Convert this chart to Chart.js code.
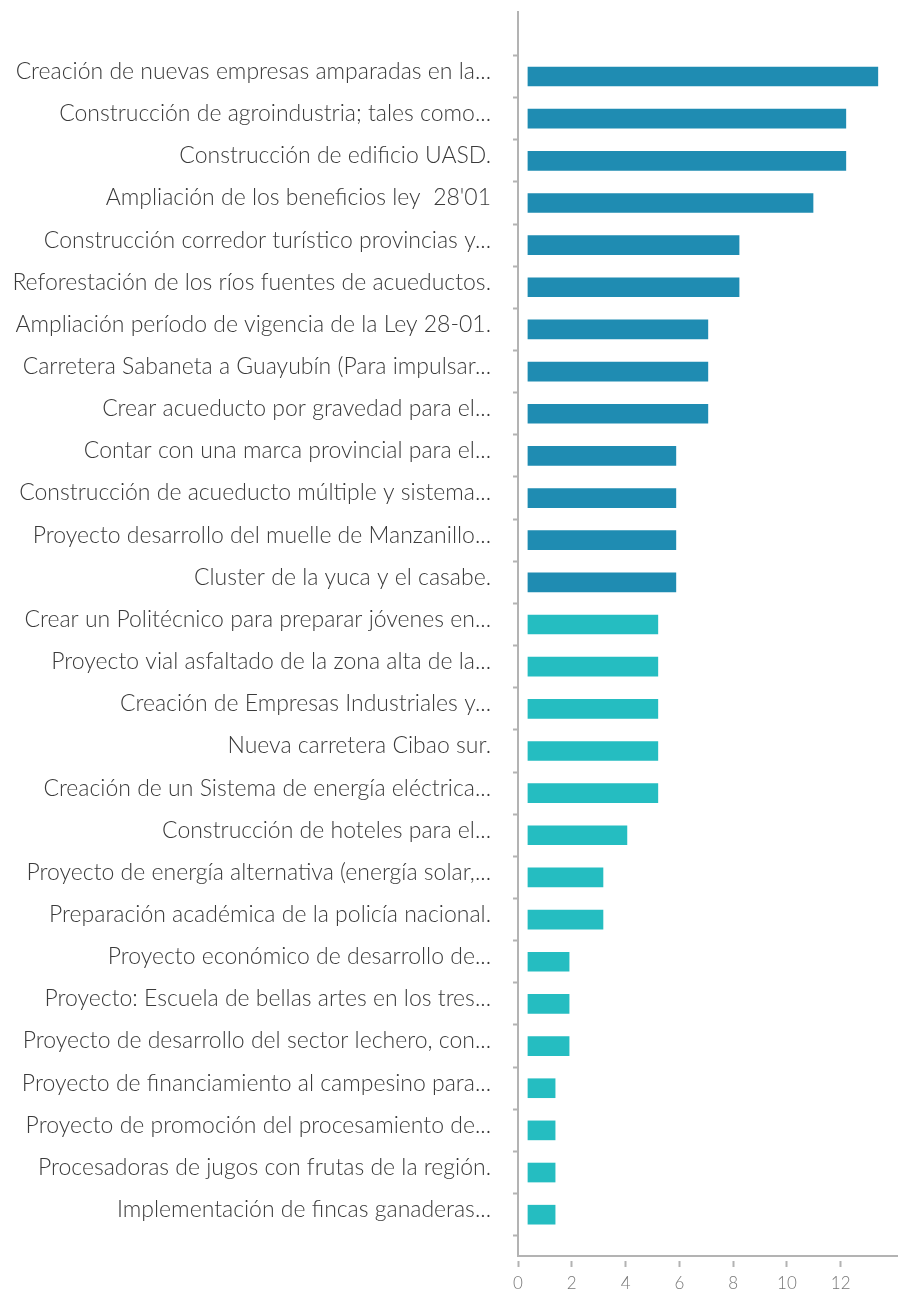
<!DOCTYPE html>
<html>
<head>
<meta charset="utf-8">
<script src="https://cdn.jsdelivr.net/npm/chart.js@4/dist/chart.umd.min.js"></script>
<style>
  html, body { margin: 0; padding: 0; background: #ffffff; }
  #wrap { width: 898px; height: 1292px; position: relative; }
</style>
</head>
<body>
<div id="wrap"><canvas id="c"></canvas></div>
<script>
const categories = [
  "Creación de nuevas empresas amparadas en la...",
  "Construcción de agroindustria; tales como...",
  "Construcción de edificio UASD.",
  "Ampliación de los beneficios ley  28'01",
  "Construcción corredor turístico provincias y...",
  "Reforestación de los ríos fuentes de acueductos.",
  "Ampliación período de vigencia de la Ley 28-01.",
  "Carretera Sabaneta a Guayubín (Para impulsar...",
  "Crear acueducto por gravedad para el...",
  "Contar con una marca provincial para el...",
  "Construcción de acueducto múltiple y sistema...",
  "Proyecto desarrollo del muelle de Manzanillo...",
  "Cluster de la yuca y el casabe.",
  "Crear un Politécnico para preparar jóvenes en...",
  "Proyecto vial asfaltado de la zona alta de la...",
  "Creación de Empresas Industriales y...",
  "Nueva carretera Cibao sur.",
  "Creación de un Sistema de energía eléctrica...",
  "Construcción de hoteles para el...",
  "Proyecto de energía alternativa (energía solar,...",
  "Preparación académica de la policía nacional.",
  "Proyecto económico de desarrollo de...",
  "Proyecto: Escuela de bellas artes en los tres...",
  "Proyecto de desarrollo del sector lechero, con...",
  "Proyecto de financiamiento al campesino para...",
  "Proyecto de promoción del procesamiento de...",
  "Procesadoras de jugos con frutas de la región.",
  "Implementación de fincas ganaderas..."
];
const values = [
  13.38, 12.19, 12.19, 10.97, 8.22, 8.22, 7.06, 7.06, 7.06,
  5.87, 5.87, 5.87, 5.87,
  5.20, 5.20, 5.20, 5.20, 5.20, 4.05, 3.16, 3.16,
  1.90, 1.90, 1.90, 1.38, 1.38, 1.38, 1.38
];
const tiers = [
  "top","top","top","top","top","top","top","top","top","top","top","top","top",
  "rest","rest","rest","rest","rest","rest","rest","rest","rest","rest","rest","rest","rest","rest","rest"
];
const xTickValues = [0, 2, 4, 6, 8, 10, 12];

const tierColors = { top: "#1f8cb2", rest: "#25bdc1" };
const axisGray = "#b3b3b3";
const fontFamily = "Lato, 'Open Sans', 'DejaVu Sans', sans-serif";

const points = values.map((v, i) => ({ x: v, y: i }));

new Chart(document.getElementById("c"), {
  type: "bar",
  data: {
    datasets: [{
      data: points,
      backgroundColor: tiers.map(t => tierColors[t]),
      borderWidth: 0,
      barThickness: 19,
      base: 0.37
    }]
  },
  options: {
    indexAxis: "y",
    responsive: true,
    maintainAspectRatio: false,
    animation: false,
    layout: { padding: { top: 12, right: 0, bottom: 0, left: 0 } },
    plugins: { legend: { display: false }, tooltip: { enabled: false } },
    scales: {
      y: {
        type: "linear",
        reverse: true,
        offset: false,
        min: -1.53,
        max: 27.98,
        afterBuildTicks: s => { s.ticks = categories.map((_, i) => ({ value: i })); },
        afterFit: s => { s.width = 518; s.paddingTop = 0; s.paddingBottom = 0; },
        ticks: {
          autoSkip: false,
          padding: 22,
          labelOffset: -5,
          color: "#3a3a3a",
          font: { family: fontFamily, size: 23, weight: 300 },
          callback: v => categories[v] ?? ""
        },
        grid: {
          display: true,
          offset: true,
          drawOnChartArea: false,
          drawTicks: true,
          tickLength: 5,
          tickColor: axisGray,
          tickWidth: 2
        },
        border: { display: true, color: axisGray, width: 2 }
      },
      x: {
        type: "linear",
        min: 0,
        max: 14.13,
        afterBuildTicks: s => { s.ticks = xTickValues.map(v => ({ value: v })); },
        afterFit: s => { s.height = 36; },
        ticks: {
          padding: 6,
          color: "#777777",
          font: { family: fontFamily, size: 17, weight: 300 }
        },
        grid: {
          display: true,
          drawOnChartArea: false,
          drawTicks: true,
          tickLength: 11,
          tickColor: axisGray,
          tickWidth: 2,
          tickBorderDash: [7, 4],
          tickBorderDashOffset: 7
        },
        border: { display: true, color: axisGray, width: 2 }
      }
    }
  }
});
</script>
</body>
</html>
